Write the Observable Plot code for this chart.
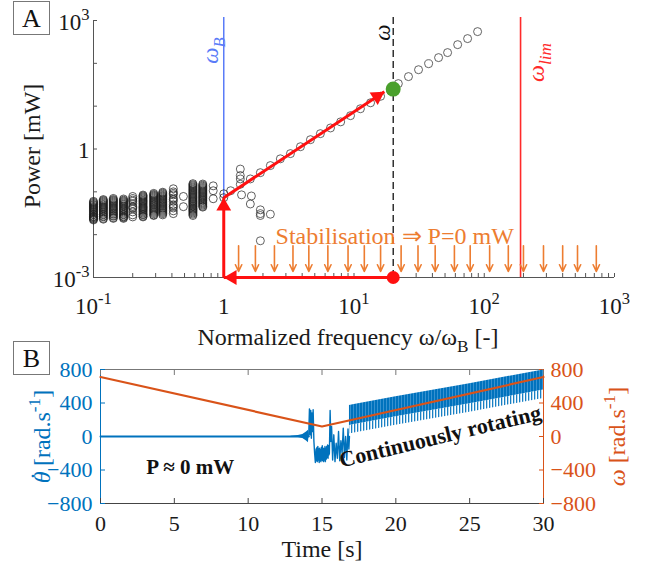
<!DOCTYPE html>
<html>
<head>
<meta charset="utf-8">
<script src="https://cdn.jsdelivr.net/npm/d3@7"></script>
<script src="https://cdn.jsdelivr.net/npm/@observablehq/plot@0.6"></script>
<style>
  html, body { margin: 0; padding: 0; background: #fff; }
  #wrap { position: relative; width: 647px; height: 567px; overflow: hidden; font-family: "Liberation Serif", "Times New Roman", serif; }
  .panel { position: absolute; left: 0; }
  .tag { position: absolute; left: 13px; width: 37px; height: 34px; border: 1px solid #777; background: #fff; font-size: 26px; line-height: 33px; text-align: center; color: #111; box-sizing: border-box; }
</style>
</head>
<body>
<div id="wrap"></div>
<script>
// ---------------- Panel A data ----------------
const lowFreq = [0.1, 0.119, 0.142, 0.17, 0.2, 0.24, 0.29, 0.34, 0.41, 0.49, 0.58, 0.69, 0.83, 1.0];
const lowPower = [
  [0.06, 0.057, 0.054, 0.051, 0.049, 0.046, 0.044, 0.042, 0.04, 0.038, 0.036, 0.034, 0.032, 0.03, 0.029, 0.027, 0.026, 0.025, 0.024, 0.023, 0.022],
  [0.066, 0.063, 0.06, 0.057, 0.054, 0.051, 0.049, 0.046, 0.044, 0.042, 0.04, 0.038, 0.036, 0.034, 0.032, 0.03, 0.029, 0.027, 0.026, 0.024, 0.023],
  [0.07, 0.066, 0.063, 0.06, 0.057, 0.054, 0.051, 0.048, 0.046, 0.043, 0.041, 0.039, 0.037, 0.035, 0.033, 0.031, 0.03, 0.028, 0.027, 0.025, 0.024],
  [0.068, 0.064, 0.061, 0.058, 0.055, 0.052, 0.05, 0.047, 0.045, 0.042, 0.04, 0.038, 0.036, 0.034, 0.032, 0.03, 0.029, 0.027, 0.026, 0.025, 0.024],
  [0.078, 0.07, 0.064, 0.06, 0.053, 0.046, 0.043, 0.04, 0.034, 0.029, 0.026],
  [0.084, 0.08, 0.076, 0.072, 0.068, 0.064, 0.061, 0.058, 0.055, 0.052, 0.049, 0.046, 0.044, 0.042, 0.04, 0.038, 0.036, 0.034, 0.032, 0.03, 0.029, 0.027, 0.026],
  [0.092, 0.087, 0.083, 0.079, 0.075, 0.071, 0.067, 0.063, 0.06, 0.057, 0.054, 0.051, 0.049, 0.046, 0.044, 0.041, 0.039, 0.037, 0.035, 0.033, 0.031, 0.029, 0.028],
  [0.098, 0.093, 0.088, 0.083, 0.079, 0.075, 0.071, 0.067, 0.064, 0.06, 0.057, 0.054, 0.051, 0.048, 0.046, 0.043, 0.041, 0.039, 0.037, 0.035, 0.033, 0.031, 0.029],
  [0.118, 0.1, 0.092, 0.085, 0.072, 0.066, 0.06, 0.05, 0.046, 0.042, 0.036, 0.031],
  [0.078, 0.045],
  [0.155, 0.146, 0.138, 0.13, 0.123, 0.116, 0.11, 0.104, 0.098, 0.093, 0.088, 0.083, 0.078, 0.074, 0.07, 0.066, 0.062, 0.059, 0.056, 0.053, 0.05, 0.047, 0.045, 0.042, 0.04, 0.038, 0.036, 0.034, 0.032, 0.03, 0.028],
  [0.152, 0.143, 0.135, 0.127, 0.12, 0.113, 0.107, 0.101, 0.096, 0.091, 0.086, 0.081, 0.077, 0.073, 0.069, 0.065, 0.062, 0.058, 0.055, 0.052, 0.049, 0.046, 0.044],
  [0.138, 0.106, 0.069],
  [0.09, 0.073]
];
const lineFreq  = [1.13, 1.34, 1.6, 1.91, 2.28, 2.72, 3.25, 3.88, 4.63, 5.52, 6.6, 7.9, 9.4, 11.2, 13.4, 16.0, 19.1, 21.9, 26.2, 31.3, 37.4, 44.6, 52.3, 62.5, 74.5, 88.9];
const linePower = [0.106, 0.15, 0.2, 0.28, 0.41, 0.59, 0.78, 1.13, 1.65, 2.28, 3.1, 4.3, 6.0, 8.7, 12.0, 17, 23, 33.6, 49, 71, 98, 136, 178, 273, 378, 550];
const branchFreq  = [1.34, 1.34, 1.34, 1.37, 1.63, 1.6, 1.91, 1.91, 1.91, 2.28, 1.91];
const branchPower = [0.34, 0.24, 0.2, 0.085, 0.08, 0.052, 0.038, 0.031, 0.028, 0.03, 0.0072];

const omegaB = 1, omegaOp = 20, omegaLim = 190;
const opPower = 25;          // green operating point
const pFloor = 1e-3;         // P = 0 drawn on the lower axis
const climbStartP = 0.073;   // top of vertical red arrow
const climbTip = [17.1, 21.8];
const stabFreq = [1.3, 1.75, 2.45, 3.4, 4.5, 6.3, 9, 12, 16, 23, 31, 42, 59, 78, 110, 153, 200, 285, 400, 520, 725];
const stabTop = 0.0055, stabBottom = 0.00138;
const stabText = "Stabilisation ⇒ P=0 mW";
const stabLabelAt = {f: 2.5, p: 0.0092};

const xDomainA = [0.1, 1000];
const yDomainA = [1e-3, 1e3];
const xLabelTicksA = [0.1, 1, 10, 100, 1000];
const xMinorTicksA = [0.2,0.3,0.4,0.5,0.6,0.7,0.8,0.9, 2,3,4,5,6,7,8,9, 20,30,40,50,60,70,80,90, 200,300,400,500,600,700,800,900];
const yTicksA = [1e-3, 1e-2, 1e-1, 1, 10, 100, 1000];
const yLabelTicksA = [1e-3, 1, 1e3];
const xTitleA = "Normalized frequency ω/ω_{B} [-]";
const yTitleA = "Power [mW]";

// ---------------- Panel B data ----------------
const omegaTime = [0, 15, 30];
const omegaValue = [710, 120, 710];
const restTime = [0, 14.1];
const restValue = [0, 0];
const rippleTime = [12.9, 13.4, 13.7, 13.95, 14.08, 14.12];
const rippleLow  = [-4, -12, -25, -55, -75, 0];
const rippleHigh = [4, 12, 25, 55, 75, 0];
const chaosTime = [14.10, 14.15, 14.20, 14.24, 14.28, 14.32, 14.36, 14.40, 14.45, 14.50, 14.55, 14.60, 14.63, 14.66, 14.69, 14.72, 14.75, 14.78, 14.81, 14.84, 14.87, 14.90, 14.93, 14.96, 14.99, 15.02, 15.05, 15.08, 15.11, 15.14, 15.17, 15.20, 15.23, 15.26, 15.29, 15.32, 15.35, 15.38, 15.41, 15.44, 15.47, 15.50, 15.55, 15.60, 15.65, 15.72, 15.80, 15.88, 15.96, 16.04, 16.12, 16.20, 16.28, 16.36, 16.44, 16.52, 16.60, 16.68, 16.76, 16.82, 16.86];
const chaosValue = [0, 330, 20, 310, -20, 280, 60, 320, -50, -200, -310, -150, -290, -130, -300, -120, -280, -150, -310, -140, -290, -160, -300, -130, -280, -110, -290, -140, -300, -150, -280, -120, -300, -140, -270, -120, -250, -100, -260, -110, -220, -200, 310, -60, 120, -280, 20, -300, -80, -260, 60, -290, -50, -200, 100, -250, 0, -280, 90, -150, 0];
const spinTime      = [16.86, 17.1, 20, 25, 30];
const spinSpikeLow  = [30, 40, 135, 290, 455];
const spinDenseLow  = [130, 140, 235, 390, 555];
const spinHigh      = [370, 380, 475, 630, 795];
const timeTicks = [0, 5, 10, 15, 20, 25, 30];
const rateTicks = [-800, -400, 0, 400, 800];
const xTitleB = "Time [s]";
const yTitleLeftB = "*{θ}`{˙} [rad.s^{-1}]";
const yTitleRightB = "*{ω} [rad.s^{-1}]";
const powerNote = "P ≈ 0 mW";
const powerNoteAt = {t: 3.1, v: -370};
const spinNote = "Continuously rotating";
const spinNoteAt = {t: 23.0, v: 0};

// ---------------- styles ----------------
const FONT = '"Liberation Serif", "Times New Roman", serif';
const axisGray = "#555";
const red = "#ff1010";
const orangeA = "#ED7D31";
const blueB = "#0072BD";
const orangeB = "#D95319";
const green = "#4aa02c";

const expFmt = d => d === 1 ? "1" : "10^{" + Math.round(Math.log10(d)) + "}";

// flatten data into rows
const lowPts = lowFreq.flatMap((f, i) => lowPower[i].map(p => ({f, p})));
const linePts = lineFreq.map((f, i) => ({f, p: linePower[i]}));
const branchPts = branchFreq.map((f, i) => ({f, p: branchPower[i]}));
const redSegs = [
  {x1: omegaOp, y1: pFloor, x2: omegaB, y2: pFloor},
  {x1: omegaB, y1: pFloor, x2: omegaB, y2: climbStartP},
  {x1: omegaB, y1: climbStartP, x2: climbTip[0], y2: climbTip[1]}
];

// geometry for the diagonal arrowhead (from the library's own scales)
const WA = 647, HA = 350, mlA = 93, mrA = 33, mtA = 20, mbA = 73;
const sA = Plot.scale({x: {type: "log", domain: xDomainA, range: [mlA, WA - mrA]}});
const tA = Plot.scale({y: {type: "log", domain: yDomainA, range: [HA - mbA, mtA]}});
const px0 = sA.apply(omegaB), py0 = tA.apply(climbStartP);
const px1 = sA.apply(climbTip[0]), py1 = tA.apply(climbTip[1]);
const ang = Math.atan2(py0 - py1, px1 - px0);           // radians above horizontal
const headR = 5.5;
const tipOff = 2 * Math.sqrt(Math.PI * headR * headR / (Math.sqrt(3) * 3));

const rot = {textAnchor: "middle", lineAnchor: "middle", rotate: -90};

const chartA = Plot.plot({
  width: WA, height: HA, marginLeft: mlA, marginRight: mrA, marginTop: mtA, marginBottom: mbA,
  x: {type: "log", domain: xDomainA},
  y: {type: "log", domain: yDomainA},
  style: {fontFamily: FONT, fontSize: "22px", color: "#1a1a1a", background: "transparent", overflow: "visible"},
  marks: [
    Plot.ruleY([yDomainA[0]], {stroke: axisGray}),
    Plot.ruleX([xDomainA[0]], {stroke: axisGray}),
    Plot.axisX(xLabelTicksA.concat(xMinorTicksA), {tickSize: -4, tickFormat: () => "", stroke: axisGray, label: null}),
    Plot.axisY(yTicksA, {tickSize: -4, tickFormat: () => "", stroke: axisGray, label: null}),
    Plot.axisX(xLabelTicksA, {tickSize: 0, tickPadding: 20, tickFormat: expFmt, label: null, fontSize: 23}),
    Plot.axisY(yLabelTicksA, {tickSize: 0, tickPadding: 4, tickFormat: expFmt, label: null, fontSize: 23, dy: 2}),
    Plot.text([xTitleA], {frameAnchor: "bottom", dy: 67, dx: -6, lineAnchor: "bottom", textAnchor: "middle", fontSize: 24}),
    Plot.text([yTitleA], {frameAnchor: "left", dx: -61, dy: -3, ...rot, fontSize: 24}),
    // frequency markers
    Plot.ruleX([omegaB], {stroke: "#5a7cf8", strokeWidth: 1.5, insetTop: -3}),
    Plot.ruleX([omegaLim], {stroke: "#ff2a2a", strokeWidth: 1.6, insetTop: -3}),
    Plot.ruleX([omegaOp], {stroke: "#111", strokeWidth: 1.3, strokeDasharray: "7,4", insetTop: -3}),
    Plot.text(["ω_{B}"], {x: omegaB, frameAnchor: "top", dx: -13, dy: 30, ...rot, fill: "#5a7cf8", fontStyle: "italic", fontSize: 23}),
    Plot.text(["ω"], {x: omegaOp, frameAnchor: "top", dx: -11, dy: 12, ...rot, fill: "#111", fontStyle: "italic", fontSize: 23}),
    Plot.text(["ω_{lim}"], {x: omegaLim, frameAnchor: "top", dx: 16, dy: 42, ...rot, fill: "#ff2a2a", fontStyle: "italic", fontSize: 24}),
    // measurements
    Plot.dot(lowPts, {x: "f", y: "p", r: 4, stroke: "#1a1a1a", strokeWidth: 0.9, strokeOpacity: 0.8}),
    Plot.dot(branchPts, {x: "f", y: "p", r: 4, stroke: "#333", strokeWidth: 0.9, strokeOpacity: 0.85}),
    Plot.dot(linePts, {x: "f", y: "p", r: 4, stroke: "#333", strokeWidth: 0.9, strokeOpacity: 0.85}),
    // stabilisation
    Plot.arrow(stabFreq, {x1: d => d, x2: d => d, y1: stabTop, y2: stabBottom, stroke: orangeA, strokeWidth: 1.6, headLength: 7, headAngle: 50}),
    Plot.text([stabText], {x: stabLabelAt.f, y: stabLabelAt.p, textAnchor: "start", fill: orangeA, fontSize: 24}),
    // red path
    Plot.link(redSegs, {x1: "x1", y1: "y1", x2: "x2", y2: "y2", stroke: red, strokeWidth: 3}),
    Plot.dot([redSegs[0]], {x: "x1", y: "y1", r: 6.5, fill: red}),
    Plot.dot([redSegs[0]], {x: "x2", y: "y2", r: headR, symbol: "triangle", fill: red, rotate: -90, dx: tipOff}),
    Plot.dot([redSegs[1]], {x: "x2", y: "y2", r: headR, symbol: "triangle", fill: red, dy: tipOff}),
    Plot.dot([redSegs[2]], {x: "x2", y: "y2", r: headR, symbol: "triangle", fill: red, rotate: 90 - ang * 180 / Math.PI, dx: -tipOff * Math.cos(ang), dy: tipOff * Math.sin(ang)}),
    Plot.dot([{f: omegaOp, p: opPower}], {x: "f", y: "p", r: 7.5, fill: green})
  ]
});

// ---------------- Panel B ----------------
const WB = 647, HB = 217;
const restPts = restTime.map((t, i) => ({t, v: restValue[i]}));
const ripplePts = rippleTime.map((t, i) => ({t, lo: rippleLow[i], hi: rippleHigh[i]}));
const chaosPts = chaosTime.map((t, i) => ({t, v: chaosValue[i]}));
const spinPts = spinTime.map((t, i) => ({t, spike: spinSpikeLow[i], dense: spinDenseLow[i], hi: spinHigh[i]}));
const omegaPts = omegaTime.map((t, i) => ({t, v: omegaValue[i]}));

const chartB = Plot.plot({
  width: WB, height: HB, marginLeft: 100, marginRight: 104, marginTop: 19, marginBottom: 64,
  x: {domain: [0, 30]},
  y: {domain: [-800, 800]},
  style: {fontFamily: FONT, fontSize: "22px", color: "#1a1a1a", background: "transparent", overflow: "visible"},
  marks: [
    Plot.ruleY([800], {stroke: "#777"}),
    Plot.ruleY([-800], {stroke: "#444"}),
    Plot.ruleX([0], {stroke: blueB}),
    Plot.ruleX([30], {stroke: orangeB}),
    Plot.axisX(timeTicks, {tickSize: -5, tickFormat: () => "", stroke: "#444", label: null}),
    Plot.axisX(timeTicks, {anchor: "top", tickSize: -5, tickFormat: () => "", stroke: "#777", label: null}),
    Plot.axisY(rateTicks, {anchor: "left", tickSize: -5, tickFormat: () => "", stroke: blueB, label: null}),
    Plot.axisY(rateTicks, {anchor: "right", tickSize: -5, tickFormat: () => "", stroke: orangeB, label: null}),
    Plot.axisX(timeTicks, {tickSize: 0, tickPadding: 12, label: null, fill: "#1a1a1a", fontSize: 22}),
    Plot.axisY(rateTicks, {anchor: "left", tickSize: 0, tickPadding: 8, label: null, fill: blueB, fontSize: 22}),
    Plot.axisY(rateTicks, {anchor: "right", tickSize: 0, tickPadding: 7, label: null, fill: orangeB, fontSize: 22}),
    Plot.text([xTitleB], {frameAnchor: "bottom", dy: 53, lineAnchor: "bottom", textAnchor: "middle", fontSize: 24}),
    Plot.text([yTitleLeftB], {frameAnchor: "left", dx: -58, ...rot, fill: blueB, fontSize: 24}),
    Plot.text([yTitleRightB], {frameAnchor: "right", dx: 74, ...rot, fill: orangeB, fontSize: 24}),
    // measured angular rate
    Plot.line(restPts, {x: "t", y: "v", stroke: blueB, strokeWidth: 2}),
    Plot.areaY(ripplePts, {x: "t", y1: "lo", y2: "hi", fill: blueB}),
    Plot.line(chaosPts, {x: "t", y: "v", stroke: blueB, strokeWidth: 1.4}),
    Plot.areaY(spinPts, {x: "t", y1: "spike", y2: "dense", fill: "url(#spinSparse)"}),
    Plot.areaY(spinPts, {x: "t", y1: "dense", y2: "hi", fill: "url(#spinDense)"}),
    // commanded frequency
    Plot.line(omegaPts, {x: "t", y: "v", stroke: orangeB, strokeWidth: 2.2}),
    Plot.text([powerNote], {x: powerNoteAt.t, y: powerNoteAt.v, textAnchor: "start", fontWeight: "bold", fontSize: 21, fill: "#111"}),
    Plot.text([spinNote], {x: spinNoteAt.t, y: spinNoteAt.v, rotate: -13.5, textAnchor: "middle", fontWeight: "bold", fontSize: 22, fill: "#111"})
  ]
});

// stripe patterns for the densely oscillating signal
(function addPatterns(svg) {
  const ns = "http://www.w3.org/2000/svg";
  const defs = document.createElementNS(ns, "defs");
  defs.innerHTML =
    '<pattern id="spinDense" patternUnits="userSpaceOnUse" width="3" height="10">' +
      '<rect width="3" height="10" fill="#0072BD"/><rect x="2.3" width="0.7" height="10" fill="#4d9ed8"/></pattern>' +
    '<pattern id="spinSparse" patternUnits="userSpaceOnUse" width="3" height="10">' +
      '<rect width="1.3" height="10" fill="#0072BD" fill-opacity="0.9"/></pattern>';
  svg.insertBefore(defs, svg.firstChild);
})(chartB);

// ---------------- assemble ----------------
const wrap = document.getElementById("wrap");
function place(node, top) {
  const d = document.createElement("div");
  d.className = "panel";
  d.style.top = top + "px";
  d.appendChild(node);
  wrap.appendChild(d);
}
place(chartA, 0);
place(chartB, 350);
for (const [label, top] of [["A", 1], ["B", 341]]) {
  const t = document.createElement("div");
  t.className = "tag";
  t.style.top = top + "px";
  t.textContent = label;
  wrap.appendChild(t);
}

// markup -> tspans:  ^{sup}  _{sub}  *{italic}  `{accent over previous glyph}
function rich(node) {
  const src = node.textContent;
  if (!/[_^*`]\{/.test(src)) return;
  const fs = parseFloat(getComputedStyle(node).fontSize) || 16;
  while (node.firstChild) node.removeChild(node.firstChild);
  const re = /([_^*`])\{([^}]*)\}/g;
  const ns = "http://www.w3.org/2000/svg";
  let last = 0, m, shift = 0;
  const add = (txt, kind) => {
    if (!txt) return;
    const t = document.createElementNS(ns, "tspan");
    const target = kind === "^" ? -0.42 * fs : kind === "_" ? 0.3 * fs : kind === "`" ? -0.14 * fs : 0;
    if (target !== shift) t.setAttribute("dy", target - shift);
    if (kind === "^" || kind === "_") t.setAttribute("font-size", 0.72 * fs);
    if (kind === "*") t.setAttribute("font-style", "italic");
    if (kind === "`") t.setAttribute("dx", -0.36 * fs);
    t.textContent = txt;
    node.appendChild(t);
    shift = target;
  };
  while ((m = re.exec(src))) { add(src.slice(last, m.index), null); add(m[2], m[1]); last = re.lastIndex; }
  add(src.slice(last), null);
}
document.querySelectorAll("#wrap svg text").forEach(rich);
</script>
</body>
</html>
